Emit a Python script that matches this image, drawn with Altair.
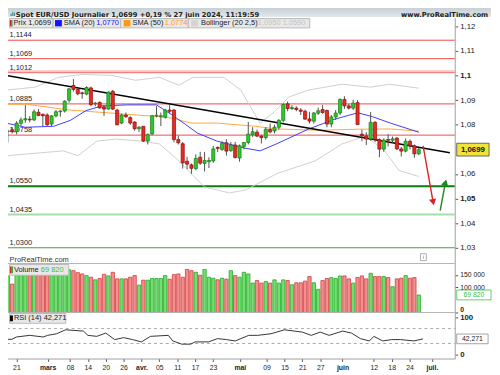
import altair as alt
import pandas as pd

FONT = "Liberation Sans"

# ---------------- data ----------------
# trading-day index (0 = 1 Mar 2024, 84 = 27 Jun 2024)
bar_index = list(range(-10, 85))
opens = [1.0773, 1.0780, 1.0772, 1.0806, 1.0820, 1.0823, 1.0820, 1.0851, 1.0843, 1.0840,
         1.0803, 1.0836, 1.0853, 1.0856, 1.0900, 1.0960, 1.0944, 1.0930, 1.0925, 1.0950,
         1.0885, 1.0891, 1.0873, 1.0864, 1.0936, 1.0860, 1.0807, 1.0840, 1.0829, 1.0811,
         1.0784, 1.0794, 1.0734, 1.0763, 1.0836, 1.0833, 1.0831, 1.0860, 1.0860, 1.0740,
         1.0723, 1.0652, 1.0637, 1.0622, 1.0668, 1.0643, 1.0650, 1.0653, 1.0708, 1.0700,
         1.0727, 1.0695, 1.0718, 1.0665, 1.0712, 1.0728, 1.0760, 1.0770, 1.0754, 1.0748,
         1.0781, 1.0775, 1.0790, 1.0818, 1.0885, 1.0866, 1.0868, 1.0860, 1.0855, 1.0824,
         1.0815, 1.0847, 1.0862, 1.0858, 1.0803, 1.0832, 1.0848, 1.0903, 1.0877, 1.0868,
         1.0890, 1.0762, 1.0755, 1.0742, 1.0810, 1.0740, 1.0701, 1.0740, 1.0737, 1.0746,
         1.0702, 1.0693, 1.0733, 1.0715, 1.0682]
highs = [1.0780, 1.0790, 1.0815, 1.0830, 1.0880, 1.0835, 1.0862, 1.0864, 1.0845, 1.0847,
         1.0840, 1.0860, 1.0860, 1.0900, 1.0950, 1.0986, 1.0948, 1.0935, 1.0957, 1.0955,
         1.0893, 1.0895, 1.0880, 1.0936, 1.0942, 1.0865, 1.0845, 1.0850, 1.0835, 1.0815,
         1.0795, 1.0795, 1.0765, 1.0840, 1.0876, 1.0850, 1.0865, 1.0880, 1.0865, 1.0756,
         1.0730, 1.0670, 1.0643, 1.0680, 1.0690, 1.0690, 1.0668, 1.0714, 1.0712, 1.0733,
         1.0742, 1.0730, 1.0730, 1.0720, 1.0730, 1.0812, 1.0790, 1.0780, 1.0760, 1.0790,
         1.0805, 1.0800, 1.0823, 1.0887, 1.0895, 1.0880, 1.0875, 1.0868, 1.0862, 1.0853,
         1.0852, 1.0870, 1.0880, 1.0862, 1.0840, 1.0860, 1.0908, 1.0916, 1.0885, 1.0902,
         1.0900, 1.0780, 1.0770, 1.0852, 1.0815, 1.0745, 1.0745, 1.0762, 1.0752, 1.0750,
         1.0710, 1.0745, 1.0740, 1.0720, 1.0705]
lows = [1.0728, 1.0765, 1.0761, 1.0795, 1.0808, 1.0810, 1.0815, 1.0835, 1.0795, 1.0796,
        1.0795, 1.0830, 1.0833, 1.0850, 1.0890, 1.0935, 1.0920, 1.0906, 1.0920, 1.0876,
        1.0875, 1.0865, 1.0836, 1.0862, 1.0860, 1.0798, 1.0803, 1.0828, 1.0800, 1.0776,
        1.0771, 1.0730, 1.0720, 1.0758, 1.0830, 1.0795, 1.0825, 1.0847, 1.0729, 1.0720,
        1.0622, 1.0620, 1.0601, 1.0615, 1.0637, 1.0610, 1.0624, 1.0646, 1.0690, 1.0694,
        1.0675, 1.0690, 1.0663, 1.0650, 1.0700, 1.0720, 1.0750, 1.0750, 1.0724, 1.0740,
        1.0765, 1.0765, 1.0780, 1.0810, 1.0855, 1.0860, 1.0855, 1.0840, 1.0820, 1.0805,
        1.0805, 1.0840, 1.0845, 1.0790, 1.0790, 1.0820, 1.0840, 1.0865, 1.0862, 1.0860,
        1.0800, 1.0733, 1.0718, 1.0735, 1.0730, 1.0668, 1.0690, 1.0712, 1.0727, 1.0697,
        1.0671, 1.0688, 1.0700, 1.0666, 1.0677]
closes = [1.0775, 1.0772, 1.0807, 1.0820, 1.0825, 1.0820, 1.0853, 1.0838, 1.0837, 1.0800,
          1.0836, 1.0853, 1.0856, 1.0896, 1.0946, 1.0944, 1.0926, 1.0927, 1.0952, 1.0882,
          1.0888, 1.0869, 1.0864, 1.0933, 1.0864, 1.0800, 1.0840, 1.0833, 1.0807, 1.0784,
          1.0790, 1.0734, 1.0760, 1.0837, 1.0839, 1.0837, 1.0860, 1.0855, 1.0740, 1.0727,
          1.0645, 1.0640, 1.0623, 1.0663, 1.0644, 1.0655, 1.0655, 1.0702, 1.0704, 1.0725,
          1.0693, 1.0718, 1.0667, 1.0715, 1.0728, 1.0762, 1.0772, 1.0754, 1.0748, 1.0782,
          1.0771, 1.0790, 1.0818, 1.0883, 1.0866, 1.0870, 1.0862, 1.0855, 1.0823, 1.0815,
          1.0848, 1.0857, 1.0850, 1.0803, 1.0832, 1.0848, 1.0903, 1.0877, 1.0868, 1.0888,
          1.0801, 1.0755, 1.0742, 1.0810, 1.0740, 1.0701, 1.0738, 1.0737, 1.0743, 1.0702,
          1.0693, 1.0733, 1.0715, 1.0682, 1.0699]
volumes = [145600, 113100, 165000, 160000, 175000, 150000, 160000, 158000, 165000, 170000,
           160000, 155000, 160000, 165000, 170000, 166400, 158600, 153400, 146900, 140400,
           130000, 135200, 152100, 145600, 159900, 133900, 133900, 133900, 140400, 146900,
           109200, 128700, 128700, 135200, 135200, 135200, 146900, 132600, 150800, 153400,
           140400, 171600, 166400, 159900, 148200, 171600, 140400, 136500, 130000, 136500,
           132600, 166400, 146900, 140400, 159900, 153400, 117000, 127400, 117000, 123500,
           117000, 130000, 117000, 130000, 127400, 110500, 118300, 118300, 124800, 143000,
           118300, 92300, 127400, 135200, 139100, 135200, 145600, 145600, 133900, 117000,
           139100, 145600, 133900, 156000, 143000, 143000, 143000, 139100, 102700, 133900,
           136500, 146900, 136500, 139100, 69820]

# indicator lines (index, value)
sma20_i = [-10.4, -6, 0.5, 4.3, 7.8, 11.5, 17.4, 24, 27.5, 30.6, 33.4, 37.8, 44, 47.7, 51.4, 58.7, 64.6, 70.1, 73.4, 77.7, 84]
sma20_v = [1.0807, 1.0790, 1.0794, 1.0818, 1.0857, 1.0877, 1.0881, 1.0881, 1.0841, 1.0802, 1.0766, 1.0734, 1.0706, 1.0694, 1.0722, 1.0782, 1.0822, 1.0849, 1.0833, 1.0806, 1.0770]
sma50_i = [-10.4, -6, 4.2, 24.7, 27.5, 31.9, 37.8, 46.6, 51.4, 61.3, 70.1, 77.7, 84]
sma50_v = [1.0884, 1.0884, 1.0860, 1.0833, 1.0827, 1.0807, 1.0807, 1.0794, 1.0783, 1.0778, 1.0782, 1.0783, 1.0774]
bb_up_i = [-10.4, -3.8, 1.6, 7.1, 13.7, 19.2, 24.7, 29.1, 32.4, 39.4, 43.3, 47.7, 51, 54.3, 58.7, 66.4, 73, 77.3, 84]
bb_up_v = [1.0941, 1.0953, 1.0993, 1.1005, 1.1001, 1.0981, 1.0993, 1.0961, 1.0993, 1.0993, 1.0941, 1.0806, 1.0853, 1.0913, 1.0941, 1.0965, 1.0953, 1.0965, 1.0949]
bb_lo_i = [-10.4, 2.7, 6.0, 10.4, 14.8, 20.3, 24.7, 29.1, 31.9, 35, 40.7, 44.4, 51.6, 60.4, 66.4, 71.8, 76.2, 79.5, 84]
bb_lo_v = [1.0674, 1.0694, 1.0674, 1.0734, 1.0742, 1.0734, 1.0722, 1.0654, 1.0602, 1.0547, 1.0523, 1.0535, 1.0602, 1.0654, 1.0722, 1.0754, 1.0694, 1.0614, 1.0590]
rsi_i = [-10, -8, -7, -4, -1, 0, 2, 4, 8, 9, 11, 13, 15, 17, 19, 21, 23, 27, 28, 30, 32, 33, 36, 38, 40, 42,
         45, 47, 50, 53, 57, 59, 61, 63, 66, 68, 70, 72, 73, 75, 77, 79, 82, 84]
rsi_v = [41.2, 41.2, 47.4, 51.8, 47.4, 51.8, 56.1, 66.7, 63.2, 51.8, 49.1, 57.9, 40.4, 45.6, 40.4, 34.2, 49.1, 51.8,
         36.8, 28.1, 28.1, 34.2, 34.2, 43.0, 40.4, 36.8, 51.8, 51.8, 56.1, 66.7, 60.5, 51.8, 60.5, 51.8, 63.2,
         57.9, 43.0, 36.8, 49.1, 36.8, 40.4, 40.4, 36.8, 42.271]

# horizontal support / resistance levels
levels = [1.1144, 1.1069, 1.1012, 1.0885, 1.0758, 1.0550, 1.0435, 1.0300]
level_labels = ["1,1144", "1,1069", "1,1012", "1,0885", "1,0758", "1,0550", "1,0435", "1,0300"]
level_colors = ["#f04848", "#f04848", "#f04848", "#f04848", "#f04848", "#0f7a0f", "#a8dca8", "#3aa03a"]
level_widths = [1, 1, 1, 1, 1, 2, 2, 1]

# trend line and arrows
trend_i = [-10.417, 91.12]
trend_v = [1.1001, 1.0686]
down_arrow_i = [85.0, 87.3]
down_arrow_v = [1.0714, 1.0485]
up_arrow_i = [88.9, 90.1]
up_arrow_v = [1.0451, 1.0565]

# x axis ticks
tick_idx = [-7, 0, 5, 9, 13, 17, 21, 25, 29, 33, 37, 43, 49, 53, 57, 61, 66, 73, 77, 81, 86]
tick_lbl = ["21", "mars", "08", "14", "20", "26", "avr.", "05", "11", "17", "23", "mai",
            "09", "15", "21", "27", "juin", "12", "18", "24", "juil."]
month_idx = [0, 21, 43, 66, 86]
price_ticks = [1.03, 1.04, 1.05, 1.06, 1.08, 1.09, 1.10, 1.11, 1.12]

# ---------------- helpers ----------------
W = 463
L = 8.5  # first visible pixel column (the page margin hides what lies left of it)
xs = alt.Scale(domain=[-10.417, 91.12], nice=False, zero=False)
ps = alt.Scale(domain=[1.0236, 1.1236], nice=False, zero=False)
vs = alt.Scale(domain=[0, 195000], nice=False, zero=False)
rs = alt.Scale(domain=[-10.5, 113.2], nice=False, zero=False)

def txt(text, x, y, size=7.6, weight="normal", color="#222222", align="left", font=FONT):
    return alt.Chart(pd.DataFrame({"t": [text]})).mark_text(
        align=align, baseline="middle", fontSize=size, fontWeight=weight, color=color, font=font
    ).encode(x=alt.value(x), y=alt.value(y), text="t:N")

def box(x1, x2, y1, y2, fill, stroke=None, sw=1.0):
    kw = dict(fill=fill)
    if stroke is not None:
        kw.update(stroke=stroke, strokeWidth=sw)
    return alt.Chart(pd.DataFrame({"a": [0]})).mark_rect(**kw).encode(
        x=alt.value(x1), x2=alt.value(x2), y=alt.value(y1), y2=alt.value(y2))

def hline(y, color="#b4b4b4"):
    return alt.Chart(pd.DataFrame({"a": [0]})).mark_rule(color=color, strokeWidth=1).encode(
        x=alt.value(0), x2=alt.value(W), y=alt.value(y))

def right_axis(values, expr, bold_test, size=8, baseline=None):
    kw = {}
    if baseline is not None:
        kw["labelBaseline"] = baseline
    return alt.Axis(orient="right", values=values, title=None, grid=False,
                    domainColor="#a0a0a0", tickColor="#555555", tickSize=3,
                    labelFontSize=size, labelColor="#222222", labelPadding=2, labelFont=FONT,
                    labelOverlap=False, labelExpr=expr,
                    labelFontWeight={"condition": {"test": bold_test, "value": "bold"}, "value": "normal"},
                    **kw)

price_axis = right_axis(price_ticks, "replace(format(datum.value, '.2~f'), '.', ',')",
                        "abs(datum.value-1.1)<1e-6 || abs(datum.value-1.05)<1e-6")

df = pd.DataFrame({"i": bar_index, "open": opens, "high": highs, "low": lows,
                   "close": closes, "volume": volumes})
df["up"] = df["close"] >= df["open"]
df["lo"] = df[["open", "close"]].min(axis=1)
df["hi"] = df[["open", "close"]].max(axis=1)

X = alt.X("i:Q", scale=xs, axis=None)

def PY(f):
    return alt.Y(f, type="quantitative", scale=ps, axis=price_axis)

# ---------------- price panel ----------------
lv = pd.DataFrame({"p": levels, "lab": level_labels, "c": level_colors, "w": level_widths})
level_rules = alt.Chart(lv).mark_rule().encode(
    x=alt.value(0), x2=alt.value(W), y=PY("p"),
    color=alt.Color("c:N", scale=None), strokeWidth=alt.StrokeWidth("w:Q", scale=None))
pink = alt.Chart(pd.DataFrame({"p": [1.1012]})).mark_rule(color="#f6c4c4", strokeWidth=2, yOffset=-1.5).encode(
    x=alt.value(0), x2=alt.value(W), y=PY("p"))
level_text = alt.Chart(lv).mark_text(align="left", baseline="bottom", dy=-1, fontSize=7.6,
                                     color="#222222", font=FONT).encode(
    x=alt.value(L), y=PY("p"), text="lab:N")

def line_layer(ii, vv, color, width=1.0):
    return alt.Chart(pd.DataFrame({"i": ii, "p": vv})).mark_line(
        color=color, strokeWidth=width).encode(x=X, y=PY("p"))

bb_up = line_layer(bb_up_i, bb_up_v, "#cfcfcf")
bb_lo = line_layer(bb_lo_i, bb_lo_v, "#cfcfcf")
sma50 = line_layer(sma50_i, sma50_v, "#ffa83a")
sma20 = line_layer(sma20_i, sma20_v, "#3a3aff")
trend = line_layer(trend_i, trend_v, "#000000", 1.6)

wicks = alt.Chart(df).mark_rule(color="#505050", strokeWidth=1).encode(x=X, y=PY("low"), y2="high")
bodies = alt.Chart(df).mark_bar(width=3.2, strokeWidth=0.7).encode(
    x=X, y=PY("lo"), y2="hi",
    fill=alt.condition("datum.up", alt.value("#2ec82e"), alt.value("#e82a22")),
    stroke=alt.condition("datum.up", alt.value("#137a13"), alt.value("#8a0d0d")))

red_arrow = line_layer(down_arrow_i, down_arrow_v, "#e02020", 1.4)
green_arrow = line_layer(up_arrow_i, up_arrow_v, "#1c8a1c", 1.4)
heads = alt.Chart(pd.DataFrame({"i": [down_arrow_i[1], up_arrow_i[1]], "p": [down_arrow_v[1], up_arrow_v[1]],
                                "a": [169, 14], "c": ["#e02020", "#1c8a1c"]})).mark_point(
    shape="triangle-up", filled=True, size=55, opacity=1).encode(
    x=X, y=PY("p"), angle=alt.Angle("a:Q", scale=None), color=alt.Color("c:N", scale=None))

last = pd.DataFrame({"p": [1.0699], "p1": [1.0699 - 0.0026], "p2": [1.0699 + 0.0026], "t": ["1,0699"]})
tag_box = alt.Chart(last).mark_rect(fill="#f2e33a", stroke="#444444", strokeWidth=0.8).encode(
    x=alt.value(465), x2=alt.value(498), y=PY("p1"), y2="p2")
tag_txt = alt.Chart(last).mark_text(fontSize=8, fontWeight="bold", color="#111111", font=FONT).encode(
    x=alt.value(481.5), y=PY("p"), text="t:N")

title_grad = alt.LinearGradient(gradient="linear", x1=0, x2=0, y1=0, y2=1,
                                stops=[alt.GradientStop(offset=0, color="#b9c5ce"),
                                       alt.GradientStop(offset=1, color="#e3e8eb")])
LY = 5.8  # legend row text centre (plot coordinates)
header = [
    box(0, 500, -14, -0.5, title_grad),
    box(9.5, 10.7, -4, -1.5, "#3a6fd8"), box(11.2, 12.4, -6, -1.5, "#3ab04a"), box(12.9, 14.1, -5, -1.5, "#3a6fd8"),
    txt("Spot EUR/USD Journalier 1,0699 +0,19 % 27 juin 2024, 11:19:59", 15, -2.8, size=6.9,
        weight="bold", font="DejaVu Sans"),
    txt("www.ProRealTime.com", 497, -2.8, size=6.9, weight="bold", align="right", font="DejaVu Sans"),
    box(L, 53, 1, 10.5, "#e8e8e8", "#b8b8b8"),
    box(53, 122, 1, 10.5, "#e8e8e8", "#b8b8b8"),
    box(122, 191, 1, 10.5, "#e8e8e8", "#b8b8b8"),
    box(191, 315, 1, 10.5, "#e8e8e8", "#b8b8b8"),
    box(9, 10.3, 2.5, 9, "#d02020"), box(10.3, 11.6, 2.5, 9, "#20a020"),
    box(55, 62, 2.5, 9, "#1414ff"), box(125, 132, 2.5, 9, "#ff9a10"), box(194, 201, 2.5, 9, "#d4d4d4"),
    txt("Prix 1,0699", 12.5, LY), txt("SMA (20)", 64, LY), txt("1,0770", 97, LY, color="#1414ff"),
    txt("SMA (50)", 134, LY), txt("1,0774", 167, LY, color="#ff9a10"),
    txt("Bollinger (20 2,5)", 204, LY), txt("1,0950 1,0590", 262, LY, color="#c4c4c4"),
    txt("ProRealTime.com", L, 247, color="#333333"),
    box(428, 434, 241, 248, "#ffffff", "#9a9a9a", 0.8), txt("i", 431, 244.5, size=6, align="center", color="#777777"),
]

price = alt.layer(level_rules, pink, level_text, bb_up, bb_lo, sma50, sma20, trend,
                  wicks, bodies, red_arrow, green_arrow, heads, tag_box, tag_txt, *header
                  ).properties(width=W, height=251)

# ---------------- volume panel ----------------
vol_axis = right_axis([0, 100000, 150000],
                      "datum.value == 0 ? '0' : replace(format(datum.value, ',d'), ',', ' ')",
                      "datum.value == 0", size=7,
                      baseline={"condition": {"test": "datum.value == 0", "value": "bottom"}, "value": "middle"})
vol_bars = alt.Chart(df).mark_bar(width=3.4, strokeWidth=0.8).encode(
    x=X, y=alt.Y("volume:Q", scale=vs, axis=vol_axis),
    fill=alt.condition("datum.up", alt.value("#74de74"), alt.value("#f29090")),
    stroke=alt.condition("datum.up", alt.value("#22aa22"), alt.value("#d43c3c")))
vtag = pd.DataFrame({"v": [69820], "v1": [50320], "v2": [89320], "t": ["69 820"]})
vol_tag_box = alt.Chart(vtag).mark_rect(fill="#ffffff", stroke="#40c040", strokeWidth=0.8).encode(
    x=alt.value(465), x2=alt.value(500), y=alt.Y("v1:Q", scale=vs, axis=vol_axis), y2="v2")
vol_tag_txt = alt.Chart(vtag).mark_text(fontSize=7, color="#40c040", font=FONT).encode(
    x=alt.value(482.5), y=alt.Y("v:Q", scale=vs, axis=vol_axis), text="t:N")
volume = alt.layer(
    vol_bars, hline(0),
    box(L, 69, 1, 12, "#e8e8e8", "#b8b8b8"), box(9, 10.5, 3, 10, "#d02020"), box(10.5, 12, 3, 10, "#20a020"),
    txt("Volume", 13, 6.5), txt("69 820", 40.5, 6.5, color="#40c040"),
    vol_tag_box, vol_tag_txt,
).properties(width=W, height=50)

# ---------------- RSI panel ----------------
rsi_axis = right_axis([0, 100], "format(datum.value, 'd')", "true", size=8)
date_axis = alt.Axis(values=tick_idx, title=None, grid=False, domainColor="#a0a0a0", tickColor="#555555",
                     tickSize=3, labelFontSize=7, labelColor="#222222", labelFont=FONT, labelPadding=2,
                     labelFlush=False, labelOverlap=False,
                     labelExpr="[" + ",".join("'%s'" % s for s in tick_lbl) + "][indexof(["
                               + ",".join(str(v) for v in tick_idx) + "], datum.value)]",
                     labelFontWeight={"condition": {"test": "indexof([" + ",".join(str(v) for v in month_idx)
                                                    + "], datum.value) >= 0", "value": "bold"},
                                      "value": "normal"})
XR = alt.X("i:Q", scale=xs, axis=date_axis)

def RY(f):
    return alt.Y(f, type="quantitative", scale=rs, axis=rsi_axis)

rsi_df = pd.DataFrame({"i": rsi_i, "r": rsi_v})
dash = alt.Chart(pd.DataFrame({"r": [70, 30]})).mark_rule(color="#a8a8a8", strokeDash=[3, 3], strokeWidth=1).encode(
    x=alt.value(0), x2=alt.value(W), y=RY("r"))
rsi_line = alt.Chart(rsi_df).mark_line(color="#333333", strokeWidth=1).encode(x=XR, y=RY("r"))
rtag = pd.DataFrame({"i": [0], "r": [42.271], "r1": [42.271 - 13], "r2": [42.271 + 13], "t": ["42,271"]})
rsi_tag_box = alt.Chart(rtag).mark_rect(fill="#ffffff", stroke="#8a8a8a", strokeWidth=0.8).encode(
    x=alt.value(465), x2=alt.value(497), y=RY("r1"), y2="r2")
rsi_tag_txt = alt.Chart(rtag).mark_text(fontSize=7, color="#222222", font=FONT).encode(
    x=alt.value(481), y=RY("r"), text="t:N")
rsi = alt.layer(
    dash, rsi_line, hline(0),
    box(L, 66, 1, 11, "#e8e8e8", "#b8b8b8"), box(9, 12, 3, 9, "#000000"),
    txt("RSI (14) 42,271", 13, 6),
    rsi_tag_box, rsi_tag_txt,
).properties(width=W, height=47)

chart = alt.vconcat(price, volume, rsi, spacing=0, bounds="flush").properties(
    padding={"left": -8, "top": -8, "right": 0, "bottom": 0}
).configure(font=FONT).configure_view(stroke=None)

chart.save("out.html", embed_options={"renderer": "svg", "actions": False})
